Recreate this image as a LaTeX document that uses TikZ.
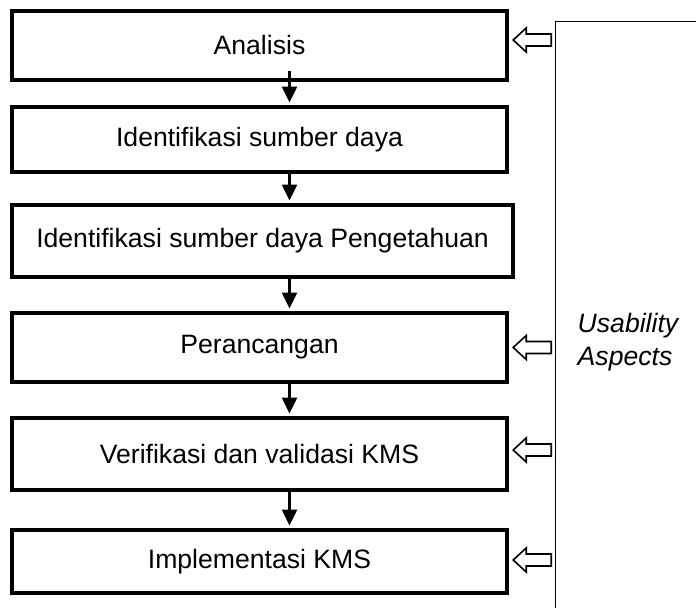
\documentclass[tikz,border=0pt]{standalone}
\usepackage{fontspec}
\setmainfont{Liberation Sans}
\usetikzlibrary{positioning}
\usetikzlibrary{arrows.meta}

\begin{document}
\begin{tikzpicture}[
            x = 0.5pt, y = -0.5pt, % one unit = one pixel of the sketch
            > = {Triangle[length=8pt, width=7.5pt]}, % arrow head style
            shorten > = 1.1pt, % stop on the box border
            node distance = 53pt, % distance between step centres
            line width = 1.1pt
        ]

        \tikzstyle{every node}=[font=\fontsize{13.3}{16.5}\selectfont]
        \tikzstyle{stepbox}=[
            draw,
            line width = 2.2pt,
            minimum width = 247.5pt,
            inner sep = 2pt
        ]
        \tikzstyle{openarrow}=[draw, line width = 0.8pt, fill = white, shorten > = 0pt]
        \tikzstyle{usabbox}=[
            draw,
            line width = 0.7pt,
            font = \fontsize{13.3}{16.5}\selectfont\itshape,
            align = left,
            text width = 60pt,
            inner xsep = 11pt,
            minimum height = 320pt
        ]

        \useasboundingbox (0,0) rectangle (696,608);

	% steps
        \node[stepbox, minimum height = 34.5pt] (ana) at (259.5,45.5) {Analisis};
        \node[stepbox, minimum height = 32.5pt, node distance = 47pt] (sd) [below of = ana] {Identifikasi sumber daya};
        \node[stepbox, minimum height = 36pt, minimum width = 250.5pt, node distance = 50.75pt] (pk) [below of = sd, xshift = 1.5pt] {Identifikasi sumber daya Pengetahuan};
        \node[stepbox, minimum height = 34.5pt, node distance = 53.25pt] (ranc) [below of = pk, xshift = -1.5pt] {Perancangan};
        \node[stepbox, minimum height = 36pt, node distance = 53.25pt] (veri) [below of = ranc] {Verifikasi dan validasi KMS};
        \node[stepbox, minimum height = 31.5pt, node distance = 53.75pt] (impl) [below of = veri] {Implementasi KMS};

        % flow
        \draw[->] ([xshift = 15pt, yshift = 5.5pt]ana.south) -- ([xshift = 15pt]ana.south |- sd.north);
        \draw[->] ([xshift = 15pt]sd.south) -- ([xshift = 15pt]sd.south |- pk.north);
        \draw[->] ([xshift = 13.5pt]pk.south) -- ([xshift = 13.5pt]pk.south |- ranc.north);
        \draw[->] ([xshift = 15pt]ranc.south) -- ([xshift = 15pt]ranc.south |- veri.north);
        \draw[->] ([xshift = 15pt]veri.south) -- ([xshift = 15pt]veri.south |- impl.north);

        % usability aspects
        \node[usabbox, anchor = north west] (usab) at (555,21) {Usability\\Aspects};

        \draw[openarrow] ([xshift = 2pt, yshift = 2.75pt]ana.east) -- ++(6.5pt,6pt) -- ++(0,-3pt) -- ++(12.5pt,0) -- ++(0,-6pt) -- ++(-12.5pt,0) -- ++(0,-3pt) -- cycle;
        \draw[openarrow] ([xshift = 2pt]ranc.east) -- ++(6.5pt,6pt) -- ++(0,-3pt) -- ++(12.5pt,0) -- ++(0,-6pt) -- ++(-12.5pt,0) -- ++(0,-3pt) -- cycle;
        \draw[openarrow] ([xshift = 2pt, yshift = 2pt]veri.east) -- ++(6.5pt,6pt) -- ++(0,-3pt) -- ++(12.5pt,0) -- ++(0,-6pt) -- ++(-12.5pt,0) -- ++(0,-3pt) -- cycle;
        \draw[openarrow] ([xshift = 2pt, yshift = 0.75pt]impl.east) -- ++(6.5pt,6pt) -- ++(0,-3pt) -- ++(12.5pt,0) -- ++(0,-6pt) -- ++(-12.5pt,0) -- ++(0,-3pt) -- cycle;

  \end{tikzpicture}
\end{document}
